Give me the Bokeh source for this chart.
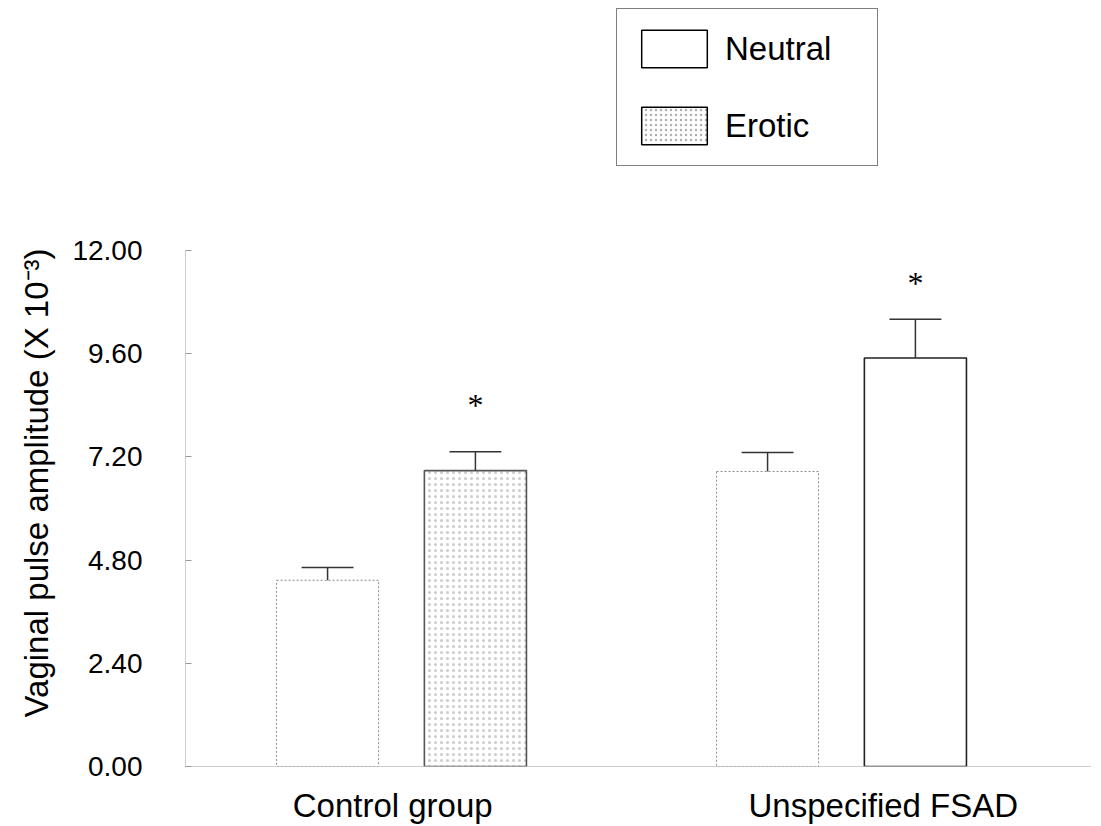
from bokeh.plotting import figure
from bokeh.models import (ColumnDataSource, Range1d, FixedTicker, PrintfTickFormatter,
                          Legend, LegendItem)
from bokeh.layouts import column
from bokeh.embed import file_html
from bokeh.resources import INLINE

# ---------------- data ----------------
groups = ["Control group", "Unspecified FSAD"]
neutral_mean = [4.33, 6.86]
neutral_sem = [0.30, 0.44]
erotic_mean = [6.88, 9.50]
erotic_sem = [0.44, 0.90]
erotic_sig = ["*", "*"]
y_ticks = [0.0, 2.4, 4.8, 7.2, 9.6, 12.0]
y_label = "Vaginal pulse amplitude (X 10\u207b\u00b3)"
series_names = ["Neutral", "Erotic"]

# ---------------- layout / style ----------------
FONT = "Liberation Sans"
group_pos = [1.0, 2.0]
offset = 0.168
bar_w = 0.232
cap_half = 0.059
label_pos = [1.0 - 0.02, 2.0 + 0.095]

x_start, x_end = 0.5091, 2.5773
y_end = 13.184

p = figure(width=1101, height=627, output_backend="svg", toolbar_location=None,
           x_range=Range1d(x_start, x_end), y_range=Range1d(0, y_end),
           min_border_left=185, min_border_right=6, min_border_top=0,
           min_border_bottom=59, outline_line_color=None,
           background_fill_color="white", border_fill_color="white")
p.grid.visible = False

nx = [g - offset for g in group_pos]
ex = [g + offset for g in group_pos]

src_n = ColumnDataSource(dict(x=nx, top=neutral_mean,
                              up=[m + s for m, s in zip(neutral_mean, neutral_sem)]))
src_e = ColumnDataSource(dict(x=ex, top=erotic_mean,
                              up=[m + s for m, s in zip(erotic_mean, erotic_sem)],
                              hatch=[".", " "],
                              lc=["#555555", "#222222"],
                              star=erotic_sig,
                              soff=[-47, -36]))

p.vbar(x="x", top="top", width=bar_w, bottom=0, source=src_n,
       fill_color="white", line_color="#8a8a8a", line_dash="2 2", line_width=1)
p.vbar(x="x", top="top", width=bar_w, bottom=0, source=src_e,
       fill_color="white", line_color="lc", line_width=1.6,
       hatch_pattern="hatch", hatch_color="#cccccc", hatch_scale=6, hatch_weight=1)

# error bars (upper only) with caps
for src in (src_n, src_e):
    p.segment(x0="x", y0="top", x1="x", y1="up", source=src,
              line_color="#333333", line_width=1.5)
cap_src = ColumnDataSource(dict(
    x0=[x - cap_half for x in nx + ex],
    x1=[x + cap_half for x in nx + ex],
    y=src_n.data["up"] + src_e.data["up"]))
p.segment(x0="x0", y0="y", x1="x1", y1="y", source=cap_src,
          line_color="#333333", line_width=1.5)

# significance asterisks
p.text(x="x", y="up", text="star", source=src_e, y_offset="soff",
       text_align="center", text_baseline="middle",
       text_font_size="32px", text_font=FONT, text_color="black")

# ---------------- axes ----------------
ya = p.yaxis[0]
ya.ticker = FixedTicker(ticks=y_ticks)
ya.formatter = PrintfTickFormatter(format="%.2f")
ya.bounds = (0, 12)
ya.axis_line_color = "#9a9a9a"
ya.axis_line_dash = "1 1"
ya.axis_line_width = 1
ya.major_tick_in = 6
ya.major_tick_out = 0
ya.major_tick_line_color = "#9a9a9a"
ya.minor_tick_line_color = None
ya.major_label_standoff = 43
ya.major_label_text_font = FONT
ya.major_label_text_font_size = "28px"
ya.major_label_text_color = "black"
ya.axis_label = y_label
ya.axis_label_text_font = FONT
ya.axis_label_text_font_size = "33px"
ya.axis_label_text_font_style = "normal"
ya.axis_label_text_color = "black"
ya.axis_label_standoff = 14

xa = p.xaxis[0]
xa.ticker = FixedTicker(ticks=label_pos)
xa.major_label_overrides = {label_pos[i]: groups[i] for i in range(len(groups))}
xa.bounds = (x_start, 2.566)
xa.axis_line_color = "#9a9a9a"
xa.axis_line_dash = "1 1"
xa.major_tick_in = 0
xa.major_tick_out = 0
xa.minor_tick_line_color = None
xa.major_label_standoff = 20
xa.major_label_text_font = FONT
xa.major_label_text_font_size = "33px"
xa.major_label_text_color = "black"

# ---------------- legend panel (top strip) ----------------
lg = figure(width=1101, height=199, output_backend="svg", toolbar_location=None,
            x_range=Range1d(x_start, x_end), y_range=Range1d(0, y_end),
            min_border_left=0, min_border_right=0, min_border_top=0,
            min_border_bottom=0, outline_line_color=None,
            background_fill_color="white", border_fill_color="white")
lg.axis.visible = False
lg.grid.visible = False
# swatch-only renderers (hidden; the legend still draws their swatches)
r_leg_n = lg.vbar(x="x", top="top", width=bar_w, bottom=0, source=src_n,
                  fill_color="white", line_color="black", line_width=1.5, visible=False)
r_leg_e = lg.vbar(x="x", top="top", width=bar_w, bottom=0, source=src_e,
                  fill_color="white", line_color="black", line_width=1.5,
                  hatch_pattern=".", hatch_color="#b0b0b0", hatch_scale=5, hatch_weight=1,
                  visible=False)
legend = Legend(items=[LegendItem(label=series_names[0], renderers=[r_leg_n]),
                       LegendItem(label=series_names[1], renderers=[r_leg_e])],
                location=(431, 33), orientation="vertical",
                glyph_width=82, glyph_height=47, spacing=30, padding=16,
                label_standoff=10, label_width=136,
                label_text_font=FONT, label_text_font_size="33px",
                label_text_color="black", border_line_color="black",
                border_line_width=1.5, background_fill_color="white",
                background_fill_alpha=1.0, inactive_fill_alpha=0.0, margin=0)
lg.add_layout(legend, "center")

layout = column(lg, p, spacing=0)
open("out.html", "w").write(file_html(layout, INLINE))
